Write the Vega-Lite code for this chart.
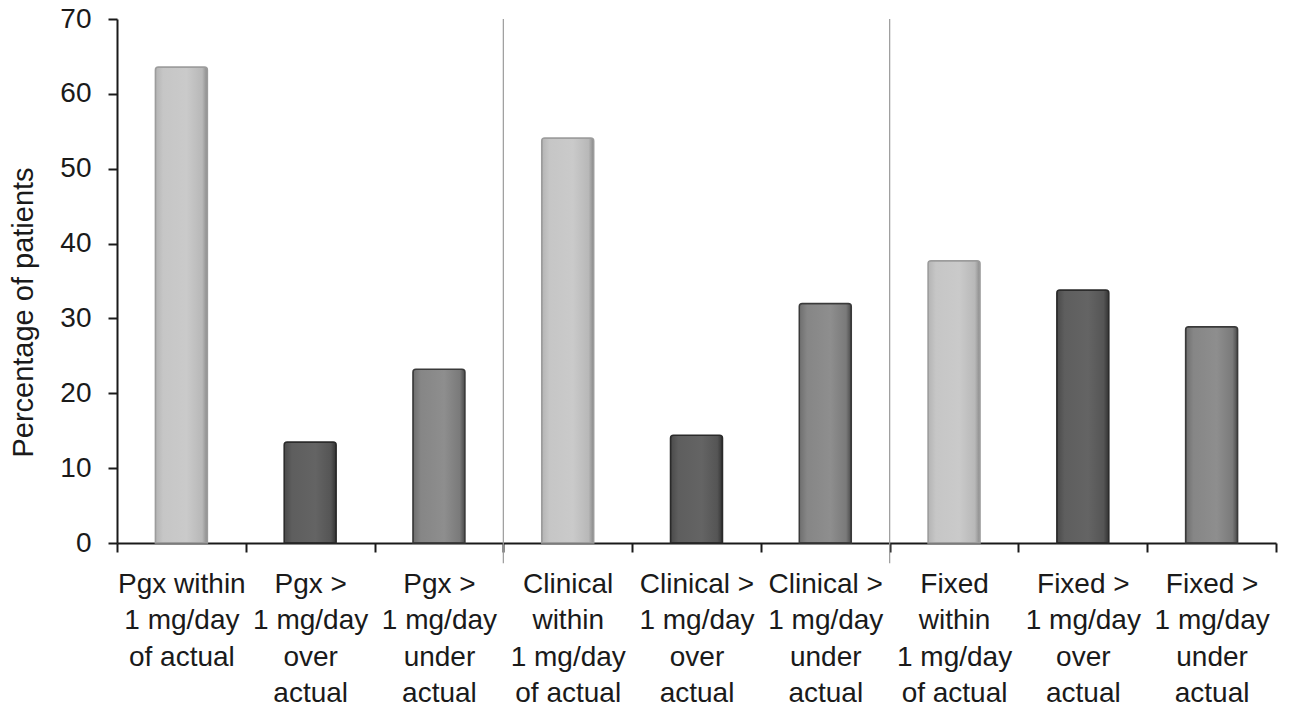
{
  "$schema": "https://vega.github.io/schema/vega-lite/v6.json",
  "width": 1159,
  "height": 524,
  "autosize": {"type": "none"},
  "padding": {"left": 117, "top": 19, "right": 16, "bottom": 170},
  "background": "white",
  "config": {
    "view": {"stroke": null},
    "font": "Liberation Sans"
  },
  "data": {
    "values": [
      {"cat": "Pgx within|1 mg/day|of actual", "type": "within", "pct": 63.6},
      {"cat": "Pgx >|1 mg/day|over|actual", "type": "over", "pct": 13.5},
      {"cat": "Pgx >|1 mg/day|under|actual", "type": "under", "pct": 23.2},
      {"cat": "Clinical|within|1 mg/day|of actual", "type": "within", "pct": 54.1},
      {"cat": "Clinical >|1 mg/day|over|actual", "type": "over", "pct": 14.4},
      {"cat": "Clinical >|1 mg/day|under|actual", "type": "under", "pct": 32.0},
      {"cat": "Fixed|within|1 mg/day|of actual", "type": "within", "pct": 37.7},
      {"cat": "Fixed >|1 mg/day|over|actual", "type": "over", "pct": 33.8},
      {"cat": "Fixed >|1 mg/day|under|actual", "type": "under", "pct": 28.9}
    ]
  },
  "encoding": {
    "x": {
      "field": "cat",
      "type": "nominal",
      "sort": null,
      "scale": {
        "domain": [
          "Pgx within|1 mg/day|of actual",
          "Pgx >|1 mg/day|over|actual",
          "Pgx >|1 mg/day|under|actual",
          "Clinical|within|1 mg/day|of actual",
          "Clinical >|1 mg/day|over|actual",
          "Clinical >|1 mg/day|under|actual",
          "Fixed|within|1 mg/day|of actual",
          "Fixed >|1 mg/day|over|actual",
          "Fixed >|1 mg/day|under|actual"
        ],
        "paddingInner": 0, "paddingOuter": 0
      },
      "axis": {
        "title": null,
        "labelAngle": 0,
        "labelExpr": "split(datum.label, '|')",
        "labelFontSize": 28,
        "labelColor": "#1a1a1a",
        "labelLineHeight": 36.5,
        "labelPadding": 18,
        "labelBaseline": "top",
        "labelLimit": 0,
        "tickBand": "extent",
        "tickColor": "#1a1a1a",
        "tickWidth": 2,
        "tickSize": 9,
        "domainColor": "#1a1a1a",
        "domainWidth": 2,
        "grid": false
      }
    },
    "y": {
      "type": "quantitative",
      "scale": {"domain": [0, 70], "nice": false},
      "axis": {
        "title": "Percentage of patients",
        "titleFontSize": 29,
        "titleFontWeight": "normal",
        "titleColor": "#1a1a1a",
        "titlePadding": 21,
        "titleY": 293,
        "values": [0, 10, 20, 30, 40, 50, 60, 70],
        "labelFontSize": 28,
        "labelColor": "#1a1a1a",
        "labelPadding": 17,
        "tickColor": "#1a1a1a",
        "tickWidth": 2,
        "tickSize": 9,
        "domainColor": "#1a1a1a",
        "domainWidth": 2,
        "gridColor": "#a8a8a8",
        "gridWidth": 1.5
      }
    }
  },
  "layer": [
    {
      "mark": {"type": "rule", "color": "#9a9a9a", "strokeWidth": 1.2},
      "transform": [{"filter": "datum.cat == 'Clinical|within|1 mg/day|of actual' || datum.cat == 'Fixed|within|1 mg/day|of actual'"}],
      "encoding": {
        "x": {"field": "cat", "type": "nominal", "bandPosition": 0},
        "y": {"datum": 70},
        "y2": {"datum": -2.7}
      }
    },
    {
      "transform": [{"filter": "datum.type == 'within'"}],
      "mark": {
        "type": "bar",
        "width": 52,
        "stroke": "#9c9c9c",
        "strokeWidth": 1.5,
        "cornerRadiusTopLeft": 3,
        "cornerRadiusTopRight": 3,
        "color": {
          "gradient": "linear", "x1": 0, "x2": 1, "y1": 0, "y2": 0,
          "stops": [
            {"offset": 0, "color": "#b4b4b4"},
            {"offset": 0.15, "color": "#c6c6c6"},
            {"offset": 0.6, "color": "#cacaca"},
            {"offset": 0.9, "color": "#b8b8b8"},
            {"offset": 1, "color": "#8a8a8a"}
          ]
        }
      },
      "encoding": {"y": {"field": "pct", "type": "quantitative"}}
    },
    {
      "transform": [{"filter": "datum.type == 'over'"}],
      "mark": {
        "type": "bar",
        "width": 52,
        "stroke": "#2a2a2a",
        "strokeWidth": 1.5,
        "cornerRadiusTopLeft": 3,
        "cornerRadiusTopRight": 3,
        "color": {
          "gradient": "linear", "x1": 0, "x2": 1, "y1": 0, "y2": 0,
          "stops": [
            {"offset": 0, "color": "#4a4a4a"},
            {"offset": 0.15, "color": "#5e5e5e"},
            {"offset": 0.6, "color": "#646464"},
            {"offset": 0.9, "color": "#555555"},
            {"offset": 1, "color": "#333333"}
          ]
        }
      },
      "encoding": {"y": {"field": "pct", "type": "quantitative"}}
    },
    {
      "transform": [{"filter": "datum.type == 'under'"}],
      "mark": {
        "type": "bar",
        "width": 52,
        "stroke": "#3a3a3a",
        "strokeWidth": 1.5,
        "cornerRadiusTopLeft": 3,
        "cornerRadiusTopRight": 3,
        "color": {
          "gradient": "linear", "x1": 0, "x2": 1, "y1": 0, "y2": 0,
          "stops": [
            {"offset": 0, "color": "#6e6e6e"},
            {"offset": 0.15, "color": "#868686"},
            {"offset": 0.6, "color": "#8e8e8e"},
            {"offset": 0.9, "color": "#7a7a7a"},
            {"offset": 1, "color": "#4a4a4a"}
          ]
        }
      },
      "encoding": {"y": {"field": "pct", "type": "quantitative"}}
    }
  ]
}
